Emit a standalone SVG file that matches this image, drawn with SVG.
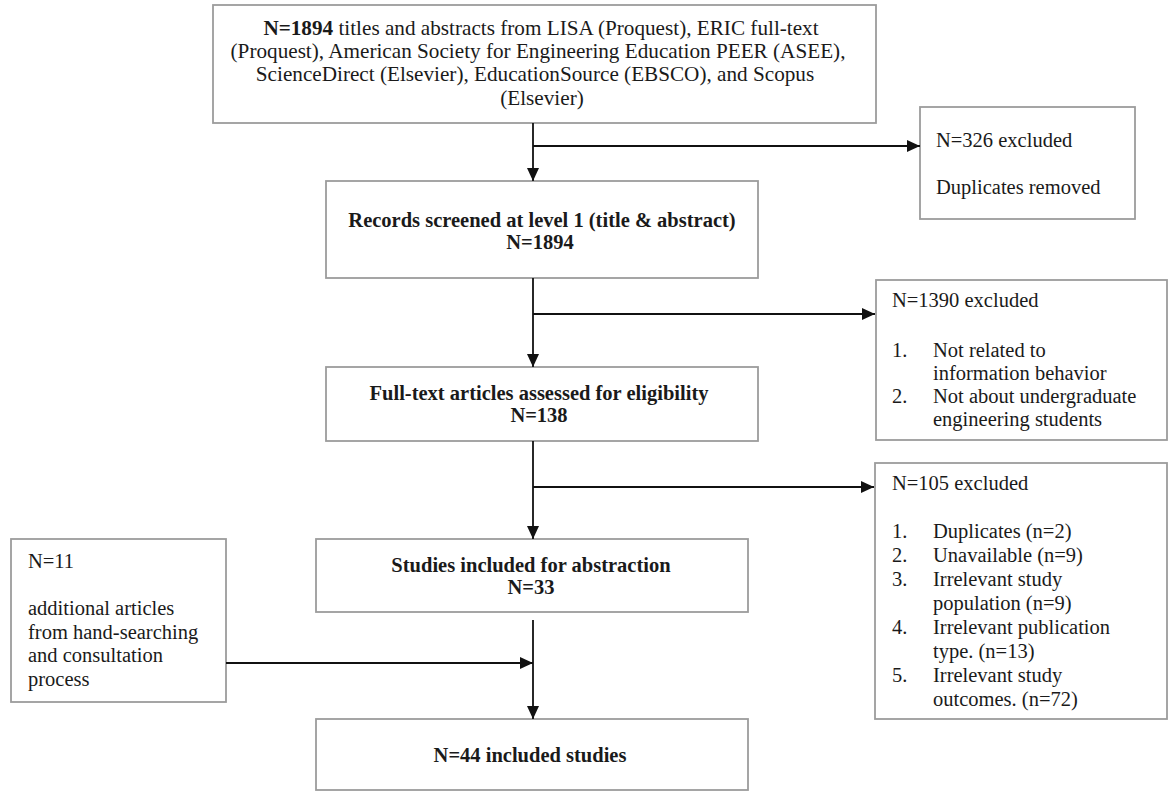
<svg xmlns="http://www.w3.org/2000/svg" width="1168" height="792" viewBox="0 0 1168 792">
<defs>
<marker id="arr" markerUnits="userSpaceOnUse" markerWidth="13" markerHeight="12" refX="13" refY="6" orient="auto">
<path d="M0,0 L13,6 L0,12 z" fill="#111"/>
</marker>
<style>
.box{fill:#fff;stroke:#9c9c9c;stroke-width:1.8}
.t{font-family:"Liberation Serif","Times New Roman",serif;font-size:20.5px;fill:#1a1a1a}
.top{font-size:21.2px}
.c{text-anchor:middle}
.b{font-weight:bold}
.ln{stroke:#111;stroke-width:1.8;fill:none}
</style>
</defs>
<rect width="1168" height="792" fill="#fff"/>

<g id="search">
<rect class="box" x="213" y="5" width="663" height="118"/>
<text class="t top c" x="541" y="35"><tspan class="b">N=1894</tspan> titles and abstracts from LISA (Proquest), ERIC full-text</text>
<text class="t top c" x="538" y="58">(Proquest), American Society for Engineering Education PEER (ASEE),</text>
<text class="t top c" x="535" y="81">ScienceDirect (Elsevier), EducationSource (EBSCO), and Scopus</text>
<text class="t top c" x="542" y="105">(Elsevier)</text>
</g>

<g id="dup">
<rect class="box" x="920" y="107" width="215" height="112"/>
<text class="t" x="936" y="147">N=326 excluded</text>
<text class="t" x="936" y="194">Duplicates removed</text>
</g>

<g id="screen1">
<rect class="box" x="326" y="181" width="432" height="97"/>
<text class="t c b" x="542" y="226.5">Records screened at level 1 (title &amp; abstract)</text>
<text class="t c b" x="540" y="249">N=1894</text>
</g>

<g id="excl1">
<rect class="box" x="876" y="280" width="291" height="160"/>
<text class="t" x="892" y="307">N=1390 excluded</text>
<text class="t" x="892" y="356.5">1.</text>
<text class="t" x="933" y="356.5">Not related to</text>
<text class="t" x="933" y="379.5">information behavior</text>
<text class="t" x="892" y="403">2.</text>
<text class="t" x="933" y="403">Not about undergraduate</text>
<text class="t" x="933" y="426">engineering students</text>
</g>

<g id="fulltext">
<rect class="box" x="326" y="367" width="432" height="74"/>
<text class="t c b" x="539" y="399.5">Full-text articles assessed for eligibility</text>
<text class="t c b" x="539" y="421.5">N=138</text>
</g>

<g id="excl2">
<rect class="box" x="875" y="463" width="292" height="256"/>
<text class="t" x="892" y="490">N=105 excluded</text>
<text class="t" x="892" y="538">1.</text>
<text class="t" x="933" y="538">Duplicates (n=2)</text>
<text class="t" x="892" y="562">2.</text>
<text class="t" x="933" y="562">Unavailable (n=9)</text>
<text class="t" x="892" y="586">3.</text>
<text class="t" x="933" y="586">Irrelevant study</text>
<text class="t" x="933" y="610">population (n=9)</text>
<text class="t" x="892" y="634">4.</text>
<text class="t" x="933" y="634">Irrelevant publication</text>
<text class="t" x="933" y="658">type. (n=13)</text>
<text class="t" x="892" y="682">5.</text>
<text class="t" x="933" y="682">Irrelevant study</text>
<text class="t" x="933" y="706">outcomes. (n=72)</text>
</g>

<g id="abstraction">
<rect class="box" x="316" y="539" width="432" height="73"/>
<text class="t c b" x="531" y="571.5">Studies included for abstraction</text>
<text class="t c b" x="531" y="593.5">N=33</text>
</g>

<g id="additional">
<rect class="box" x="11" y="539" width="215" height="163"/>
<text class="t" x="28" y="567.5">N=11</text>
<text class="t" x="28" y="615">additional articles</text>
<text class="t" x="28" y="638.5">from hand-searching</text>
<text class="t" x="28" y="662">and consultation</text>
<text class="t" x="28" y="685.5">process</text>
</g>

<g id="included">
<rect class="box" x="316" y="719" width="432" height="71"/>
<text class="t c b" x="530" y="762">N=44 included studies</text>
</g>

<g id="connectors">
<line class="ln" x1="533" y1="123" x2="533" y2="181" marker-end="url(#arr)"/>
<line class="ln" x1="533" y1="146" x2="920" y2="146" marker-end="url(#arr)"/>
<line class="ln" x1="533" y1="278" x2="533" y2="367" marker-end="url(#arr)"/>
<line class="ln" x1="533" y1="314" x2="875" y2="314" marker-end="url(#arr)"/>
<line class="ln" x1="533" y1="441" x2="533" y2="539" marker-end="url(#arr)"/>
<line class="ln" x1="533" y1="487" x2="874" y2="487" marker-end="url(#arr)"/>
<line class="ln" x1="533" y1="620" x2="533" y2="719" marker-end="url(#arr)"/>
<line class="ln" x1="226" y1="663" x2="533" y2="663" marker-end="url(#arr)"/>
</g>
</svg>
